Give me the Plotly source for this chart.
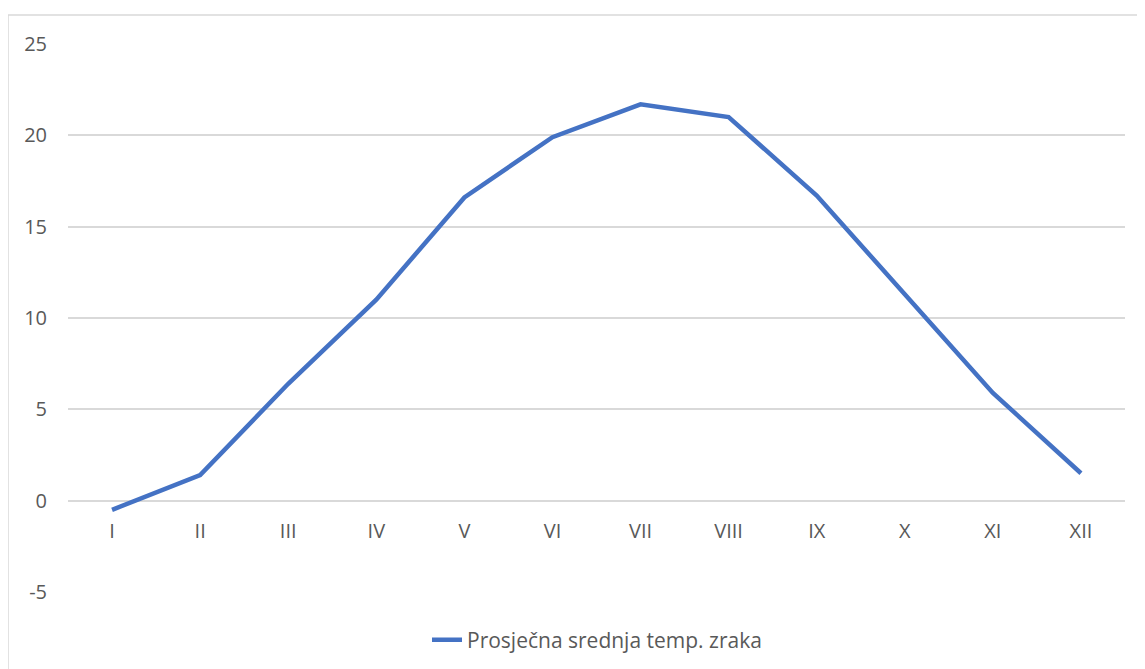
import plotly.graph_objects as go

months = ["I", "II", "III", "IV", "V", "VI", "VII", "VIII", "IX", "X", "XI", "XII"]
temps = [-0.5, 1.4, 6.4, 11.0, 16.6, 19.9, 21.7, 21.0, 16.7, 11.3, 5.9, 1.5]
series_name = "Prosječna srednja temp. zraka"
y_ticks = [-5, 0, 5, 10, 15, 20, 25]
y_tick_text = ["-5", "0", "5", "10", "15", "20", "25"]

OFF = 8  # page body margin
W, H = 1145 - OFF, 669 - OFF
# plot area in screen pixels: x 68..1125, y 44..592
ML, MT = 68 - OFF, 44 - OFF
MR = W - (1125 - OFF)
MB = H - (592 - OFF)
FONT = "Open Sans, sans-serif"
FS = 20
GRAY = "#595959"
GRID = "#d9d9d9"

fig = go.Figure()
fig.add_trace(go.Scatter(
    x=months, y=temps, mode="lines", name=series_name,
    line=dict(color="#4472C4", width=4.5),
))

ymin, ymax = -5, 25
pw = W - ML - MR
ph = H - MT - MB

fig.update_layout(
    width=W, height=H,
    margin=dict(l=ML, r=MR, t=MT, b=MB, autoexpand=False),
    paper_bgcolor="white", plot_bgcolor="white",
    font=dict(family=FONT, size=FS, color=GRAY),
    showlegend=True,
    legend=dict(orientation="h", xref="container", yref="container",
                x=(597 - OFF) / W, xanchor="center",
                y=(H - (640 - OFF)) / H, yanchor="middle",
                font=dict(family=FONT, size=21, color=GRAY)),
    xaxis=dict(
        type="category", range=[-0.5, len(months) - 0.5],
        showgrid=False, showline=False, zeroline=False, ticks="",
        anchor="free", position=(0 - ymin) / (ymax - ymin),
        ticklabelstandoff=16,
        tickfont=dict(family=FONT, size=FS, color=GRAY),
    ),
    yaxis=dict(
        range=[ymin, ymax], tickvals=y_ticks, ticktext=y_tick_text,
        showgrid=True, gridcolor=GRID, gridwidth=1.5,
        zeroline=True, zerolinecolor=GRID, zerolinewidth=1.5,
        showline=False, ticks="", ticklabelstandoff=20,
        tickfont=dict(family=FONT, size=FS, color=GRAY),
    ),
)

# chart area border (left and top edges visible)
x_left = (8 - OFF - ML) / pw
y_top = (H - MB - (15 - OFF)) / ph
fig.add_shape(type="line", xref="paper", yref="paper",
              x0=x_left, x1=x_left, y0=y_top, y1=-0.3,
              line=dict(color=GRID, width=1.5))
fig.add_shape(type="line", xref="paper", yref="paper",
              x0=x_left, x1=1.1, y0=y_top, y1=y_top,
              line=dict(color=GRID, width=1.5))

fig.write_html("out.html")
